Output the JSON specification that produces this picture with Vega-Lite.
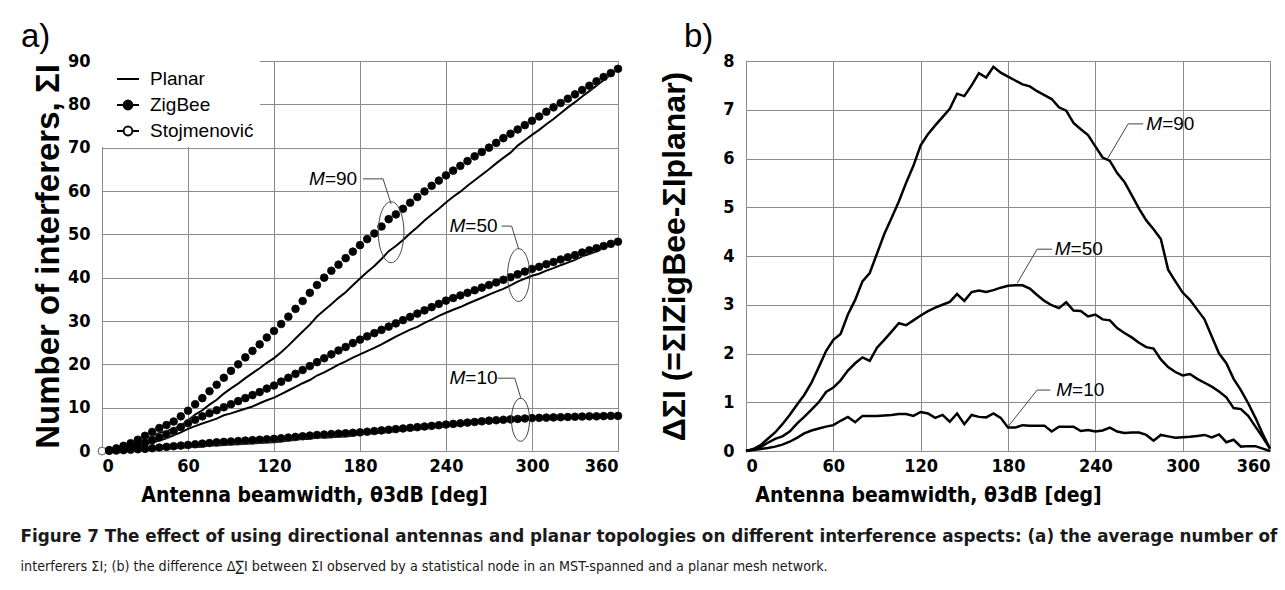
{
"$schema": "https://vega.github.io/schema/vega-lite/v6.json",
"padding": {"left": 20, "top": 20, "right": 0, "bottom": 5},
"background": "white",
"title": {"text": "Figure 7 The effect of using directional antennas and planar topologies on different interference aspects: (a) the average number of", "subtitle": "interferers ΣI; (b) the difference Δ∑I between ΣI observed by a statistical node in an MST-spanned and a planar mesh network.", "orient": "bottom", "anchor": "start", "frame": "bounds", "font": "DejaVu Sans", "fontSize": 16.8, "fontWeight": "bold", "color": "#1a1a1a", "subtitleFont": "Liberation Sans Narrow, Arial Narrow, DejaVu Sans Condensed, Roboto Condensed, Liberation Sans", "subtitleFontSize": 14.2, "subtitleColor": "#1a1a1a", "subtitlePadding": 15, "offset": 23},
"datasets": {
"curves": [
{"M":90,"x":0,"planar":0,"zigbee":0,"stojmenovic":0,"delta":0},
{"M":90,"x":5,"planar":0.16,"zigbee":0.2,"stojmenovic":0.2,"delta":0.04},
{"M":90,"x":10,"planar":0.48,"zigbee":0.6,"stojmenovic":0.6,"delta":0.12},
{"M":90,"x":15,"planar":0.95,"zigbee":1.2,"stojmenovic":1.2,"delta":0.25},
{"M":90,"x":20,"planar":1.42,"zigbee":1.8,"stojmenovic":1.8,"delta":0.38},
{"M":90,"x":25,"planar":2.05,"zigbee":2.6,"stojmenovic":2.6,"delta":0.55},
{"M":90,"x":30,"planar":2.76,"zigbee":3.5,"stojmenovic":3.5,"delta":0.74},
{"M":90,"x":35,"planar":3.45,"zigbee":4.4,"stojmenovic":4.4,"delta":0.95},
{"M":90,"x":40,"planar":4.15,"zigbee":5.3,"stojmenovic":5.3,"delta":1.15},
{"M":90,"x":45,"planar":4.6,"zigbee":6.0,"stojmenovic":6.0,"delta":1.4},
{"M":90,"x":50,"planar":5.08,"zigbee":6.8,"stojmenovic":6.8,"delta":1.72},
{"M":90,"x":55,"planar":5.95,"zigbee":8.0,"stojmenovic":8.0,"delta":2.05},
{"M":90,"x":60,"planar":7.02,"zigbee":9.3,"stojmenovic":9.3,"delta":2.28},
{"M":90,"x":65,"planar":8.4,"zigbee":10.8,"stojmenovic":10.8,"delta":2.4},
{"M":90,"x":70,"planar":9.4,"zigbee":12.2,"stojmenovic":12.2,"delta":2.8},
{"M":90,"x":75,"planar":10.7,"zigbee":13.8,"stojmenovic":13.8,"delta":3.1},
{"M":90,"x":80,"planar":11.82,"zigbee":15.3,"stojmenovic":15.3,"delta":3.48},
{"M":90,"x":85,"planar":13.25,"zigbee":16.9,"stojmenovic":16.9,"delta":3.65},
{"M":90,"x":90,"planar":14.45,"zigbee":18.5,"stojmenovic":18.5,"delta":4.05},
{"M":90,"x":95,"planar":15.55,"zigbee":20.0,"stojmenovic":20.0,"delta":4.45},
{"M":90,"x":100,"planar":16.82,"zigbee":21.6,"stojmenovic":21.6,"delta":4.78},
{"M":90,"x":105,"planar":17.98,"zigbee":23.1,"stojmenovic":23.1,"delta":5.12},
{"M":90,"x":110,"planar":19.1,"zigbee":24.6,"stojmenovic":24.6,"delta":5.5},
{"M":90,"x":115,"planar":20.35,"zigbee":26.2,"stojmenovic":26.2,"delta":5.85},
{"M":90,"x":120,"planar":21.43,"zigbee":27.7,"stojmenovic":27.7,"delta":6.27},
{"M":90,"x":125,"planar":22.8,"zigbee":29.3,"stojmenovic":29.3,"delta":6.5},
{"M":90,"x":130,"planar":24.32,"zigbee":31.0,"stojmenovic":31.0,"delta":6.68},
{"M":90,"x":135,"planar":25.95,"zigbee":32.8,"stojmenovic":32.8,"delta":6.85},
{"M":90,"x":140,"planar":27.58,"zigbee":34.6,"stojmenovic":34.6,"delta":7.02},
{"M":90,"x":145,"planar":29.17,"zigbee":36.5,"stojmenovic":36.5,"delta":7.33},
{"M":90,"x":150,"planar":31.02,"zigbee":38.3,"stojmenovic":38.3,"delta":7.28},
{"M":90,"x":155,"planar":32.5,"zigbee":40.0,"stojmenovic":40.0,"delta":7.5},
{"M":90,"x":160,"planar":33.85,"zigbee":41.6,"stojmenovic":41.6,"delta":7.75},
{"M":90,"x":165,"planar":35.34,"zigbee":43.0,"stojmenovic":43.0,"delta":7.66},
{"M":90,"x":170,"planar":36.62,"zigbee":44.5,"stojmenovic":44.5,"delta":7.88},
{"M":90,"x":175,"planar":38.24,"zigbee":46.0,"stojmenovic":46.0,"delta":7.76},
{"M":90,"x":180,"planar":39.82,"zigbee":47.5,"stojmenovic":47.5,"delta":7.68},
{"M":90,"x":185,"planar":41.3,"zigbee":48.9,"stojmenovic":48.9,"delta":7.6},
{"M":90,"x":190,"planar":42.68,"zigbee":50.2,"stojmenovic":50.2,"delta":7.52},
{"M":90,"x":195,"planar":44.32,"zigbee":51.8,"stojmenovic":51.8,"delta":7.48},
{"M":90,"x":200,"planar":46.12,"zigbee":53.5,"stojmenovic":53.5,"delta":7.38},
{"M":90,"x":205,"planar":47.3,"zigbee":54.6,"stojmenovic":54.6,"delta":7.3},
{"M":90,"x":210,"planar":48.68,"zigbee":55.9,"stojmenovic":55.9,"delta":7.22},
{"M":90,"x":215,"planar":50.25,"zigbee":57.3,"stojmenovic":57.3,"delta":7.05},
{"M":90,"x":220,"planar":51.62,"zigbee":58.6,"stojmenovic":58.6,"delta":6.98},
{"M":90,"x":225,"planar":53.17,"zigbee":59.9,"stojmenovic":59.9,"delta":6.73},
{"M":90,"x":230,"planar":54.6,"zigbee":61.2,"stojmenovic":61.2,"delta":6.6},
{"M":90,"x":235,"planar":55.92,"zigbee":62.4,"stojmenovic":62.4,"delta":6.48},
{"M":90,"x":240,"planar":57.35,"zigbee":63.6,"stojmenovic":63.6,"delta":6.25},
{"M":90,"x":245,"planar":58.68,"zigbee":64.7,"stojmenovic":64.7,"delta":6.02},
{"M":90,"x":250,"planar":59.85,"zigbee":65.8,"stojmenovic":65.8,"delta":5.95},
{"M":90,"x":255,"planar":61.2,"zigbee":66.9,"stojmenovic":66.9,"delta":5.7},
{"M":90,"x":260,"planar":62.48,"zigbee":68.0,"stojmenovic":68.0,"delta":5.52},
{"M":90,"x":265,"planar":63.75,"zigbee":69.0,"stojmenovic":69.0,"delta":5.25},
{"M":90,"x":270,"planar":65.03,"zigbee":70.0,"stojmenovic":70.0,"delta":4.97},
{"M":90,"x":275,"planar":66.37,"zigbee":71.1,"stojmenovic":71.1,"delta":4.73},
{"M":90,"x":280,"planar":67.65,"zigbee":72.2,"stojmenovic":72.2,"delta":4.55},
{"M":90,"x":285,"planar":68.85,"zigbee":73.2,"stojmenovic":73.2,"delta":4.35},
{"M":90,"x":290,"planar":70.48,"zigbee":74.2,"stojmenovic":74.2,"delta":3.72},
{"M":90,"x":295,"planar":71.72,"zigbee":75.2,"stojmenovic":75.2,"delta":3.48},
{"M":90,"x":300,"planar":72.95,"zigbee":76.2,"stojmenovic":76.2,"delta":3.25},
{"M":90,"x":305,"planar":74.1,"zigbee":77.2,"stojmenovic":77.2,"delta":3.1},
{"M":90,"x":310,"planar":75.4,"zigbee":78.3,"stojmenovic":78.3,"delta":2.9},
{"M":90,"x":315,"planar":76.6,"zigbee":79.3,"stojmenovic":79.3,"delta":2.7},
{"M":90,"x":320,"planar":77.95,"zigbee":80.3,"stojmenovic":80.3,"delta":2.35},
{"M":90,"x":325,"planar":79.3,"zigbee":81.3,"stojmenovic":81.3,"delta":2.0},
{"M":90,"x":330,"planar":80.5,"zigbee":82.3,"stojmenovic":82.3,"delta":1.8},
{"M":90,"x":335,"planar":81.82,"zigbee":83.3,"stojmenovic":83.3,"delta":1.48},
{"M":90,"x":340,"planar":83.05,"zigbee":84.3,"stojmenovic":84.3,"delta":1.25},
{"M":90,"x":345,"planar":84.32,"zigbee":85.3,"stojmenovic":85.3,"delta":0.98},
{"M":90,"x":350,"planar":85.62,"zigbee":86.3,"stojmenovic":86.3,"delta":0.68},
{"M":90,"x":355,"planar":86.85,"zigbee":87.2,"stojmenovic":87.2,"delta":0.35},
{"M":90,"x":360,"planar":88.15,"zigbee":88.2,"stojmenovic":88.2,"delta":0.05},
{"M":50,"x":0,"planar":0,"zigbee":0,"stojmenovic":0,"delta":0},
{"M":50,"x":5,"planar":0.07,"zigbee":0.1,"stojmenovic":0.1,"delta":0.03},
{"M":50,"x":10,"planar":0.22,"zigbee":0.3,"stojmenovic":0.3,"delta":0.08},
{"M":50,"x":15,"planar":0.43,"zigbee":0.6,"stojmenovic":0.6,"delta":0.17},
{"M":50,"x":20,"planar":0.75,"zigbee":1.0,"stojmenovic":1.0,"delta":0.25},
{"M":50,"x":25,"planar":1.1,"zigbee":1.4,"stojmenovic":1.4,"delta":0.3},
{"M":50,"x":30,"planar":1.5,"zigbee":1.9,"stojmenovic":1.9,"delta":0.4},
{"M":50,"x":35,"planar":1.94,"zigbee":2.5,"stojmenovic":2.5,"delta":0.56},
{"M":50,"x":40,"planar":2.4,"zigbee":3.1,"stojmenovic":3.1,"delta":0.7},
{"M":50,"x":45,"planar":2.95,"zigbee":3.8,"stojmenovic":3.8,"delta":0.85},
{"M":50,"x":50,"planar":3.6,"zigbee":4.6,"stojmenovic":4.6,"delta":1.0},
{"M":50,"x":55,"planar":4.29,"zigbee":5.5,"stojmenovic":5.5,"delta":1.21},
{"M":50,"x":60,"planar":5.1,"zigbee":6.4,"stojmenovic":6.4,"delta":1.3},
{"M":50,"x":65,"planar":5.75,"zigbee":7.2,"stojmenovic":7.2,"delta":1.45},
{"M":50,"x":70,"planar":6.35,"zigbee":8.0,"stojmenovic":8.0,"delta":1.65},
{"M":50,"x":75,"planar":6.9,"zigbee":8.7,"stojmenovic":8.7,"delta":1.8},
{"M":50,"x":80,"planar":7.48,"zigbee":9.4,"stojmenovic":9.4,"delta":1.92},
{"M":50,"x":85,"planar":8.25,"zigbee":10.1,"stojmenovic":10.1,"delta":1.85},
{"M":50,"x":90,"planar":8.68,"zigbee":10.8,"stojmenovic":10.8,"delta":2.12},
{"M":50,"x":95,"planar":9.22,"zigbee":11.5,"stojmenovic":11.5,"delta":2.28},
{"M":50,"x":100,"planar":9.75,"zigbee":12.2,"stojmenovic":12.2,"delta":2.45},
{"M":50,"x":105,"planar":10.28,"zigbee":12.9,"stojmenovic":12.9,"delta":2.62},
{"M":50,"x":110,"planar":11.02,"zigbee":13.6,"stojmenovic":13.6,"delta":2.58},
{"M":50,"x":115,"planar":11.72,"zigbee":14.4,"stojmenovic":14.4,"delta":2.68},
{"M":50,"x":120,"planar":12.32,"zigbee":15.1,"stojmenovic":15.1,"delta":2.78},
{"M":50,"x":125,"planar":13.13,"zigbee":16.0,"stojmenovic":16.0,"delta":2.87},
{"M":50,"x":130,"planar":13.96,"zigbee":16.9,"stojmenovic":16.9,"delta":2.94},
{"M":50,"x":135,"planar":14.8,"zigbee":17.8,"stojmenovic":17.8,"delta":3.0},
{"M":50,"x":140,"planar":15.64,"zigbee":18.7,"stojmenovic":18.7,"delta":3.06},
{"M":50,"x":145,"planar":16.38,"zigbee":19.6,"stojmenovic":19.6,"delta":3.22},
{"M":50,"x":150,"planar":17.42,"zigbee":20.5,"stojmenovic":20.5,"delta":3.08},
{"M":50,"x":155,"planar":18.14,"zigbee":21.4,"stojmenovic":21.4,"delta":3.26},
{"M":50,"x":160,"planar":19.01,"zigbee":22.3,"stojmenovic":22.3,"delta":3.29},
{"M":50,"x":165,"planar":19.94,"zigbee":23.2,"stojmenovic":23.2,"delta":3.26},
{"M":50,"x":170,"planar":20.7,"zigbee":24.0,"stojmenovic":24.0,"delta":3.3},
{"M":50,"x":175,"planar":21.55,"zigbee":24.9,"stojmenovic":24.9,"delta":3.35},
{"M":50,"x":180,"planar":22.31,"zigbee":25.7,"stojmenovic":25.7,"delta":3.39},
{"M":50,"x":185,"planar":23.05,"zigbee":26.45,"stojmenovic":26.45,"delta":3.4},
{"M":50,"x":190,"planar":23.8,"zigbee":27.2,"stojmenovic":27.2,"delta":3.4},
{"M":50,"x":195,"planar":24.62,"zigbee":27.95,"stojmenovic":27.95,"delta":3.33},
{"M":50,"x":200,"planar":25.5,"zigbee":28.7,"stojmenovic":28.7,"delta":3.2},
{"M":50,"x":205,"planar":26.37,"zigbee":29.45,"stojmenovic":29.45,"delta":3.08},
{"M":50,"x":210,"planar":27.21,"zigbee":30.2,"stojmenovic":30.2,"delta":2.99},
{"M":50,"x":215,"planar":28.02,"zigbee":30.95,"stojmenovic":30.95,"delta":2.93},
{"M":50,"x":220,"planar":28.65,"zigbee":31.7,"stojmenovic":31.7,"delta":3.05},
{"M":50,"x":225,"planar":29.57,"zigbee":32.45,"stojmenovic":32.45,"delta":2.88},
{"M":50,"x":230,"planar":30.33,"zigbee":33.2,"stojmenovic":33.2,"delta":2.87},
{"M":50,"x":235,"planar":31.19,"zigbee":33.95,"stojmenovic":33.95,"delta":2.76},
{"M":50,"x":240,"planar":31.9,"zigbee":34.7,"stojmenovic":34.7,"delta":2.8},
{"M":50,"x":245,"planar":32.6,"zigbee":35.3,"stojmenovic":35.3,"delta":2.7},
{"M":50,"x":250,"planar":33.22,"zigbee":35.9,"stojmenovic":35.9,"delta":2.68},
{"M":50,"x":255,"planar":33.98,"zigbee":36.5,"stojmenovic":36.5,"delta":2.52},
{"M":50,"x":260,"planar":34.68,"zigbee":37.1,"stojmenovic":37.1,"delta":2.42},
{"M":50,"x":265,"planar":35.37,"zigbee":37.7,"stojmenovic":37.7,"delta":2.33},
{"M":50,"x":270,"planar":36.08,"zigbee":38.3,"stojmenovic":38.3,"delta":2.22},
{"M":50,"x":275,"planar":36.77,"zigbee":38.9,"stojmenovic":38.9,"delta":2.13},
{"M":50,"x":280,"planar":37.4,"zigbee":39.5,"stojmenovic":39.5,"delta":2.1},
{"M":50,"x":285,"planar":38.22,"zigbee":40.1,"stojmenovic":40.1,"delta":1.88},
{"M":50,"x":290,"planar":39.08,"zigbee":40.8,"stojmenovic":40.8,"delta":1.72},
{"M":50,"x":295,"planar":39.78,"zigbee":41.4,"stojmenovic":41.4,"delta":1.62},
{"M":50,"x":300,"planar":40.45,"zigbee":42.0,"stojmenovic":42.0,"delta":1.55},
{"M":50,"x":305,"planar":40.92,"zigbee":42.5,"stojmenovic":42.5,"delta":1.58},
{"M":50,"x":310,"planar":41.62,"zigbee":43.1,"stojmenovic":43.1,"delta":1.48},
{"M":50,"x":315,"planar":42.2,"zigbee":43.6,"stojmenovic":43.6,"delta":1.4},
{"M":50,"x":320,"planar":42.88,"zigbee":44.2,"stojmenovic":44.2,"delta":1.32},
{"M":50,"x":325,"planar":43.48,"zigbee":44.7,"stojmenovic":44.7,"delta":1.22},
{"M":50,"x":330,"planar":44.1,"zigbee":45.2,"stojmenovic":45.2,"delta":1.1},
{"M":50,"x":335,"planar":44.92,"zigbee":45.8,"stojmenovic":45.8,"delta":0.88},
{"M":50,"x":340,"planar":45.44,"zigbee":46.3,"stojmenovic":46.3,"delta":0.86},
{"M":50,"x":345,"planar":46.08,"zigbee":46.8,"stojmenovic":46.8,"delta":0.72},
{"M":50,"x":350,"planar":46.8,"zigbee":47.3,"stojmenovic":47.3,"delta":0.5},
{"M":50,"x":355,"planar":47.52,"zigbee":47.8,"stojmenovic":47.8,"delta":0.28},
{"M":50,"x":360,"planar":48.25,"zigbee":48.3,"stojmenovic":48.3,"delta":0.05},
{"M":10,"x":0,"planar":0,"zigbee":0,"stojmenovic":0,"delta":0},
{"M":10,"x":5,"planar":0.03,"zigbee":0.05,"stojmenovic":0.05,"delta":0.02},
{"M":10,"x":10,"planar":0.06,"zigbee":0.1,"stojmenovic":0.1,"delta":0.04},
{"M":10,"x":15,"planar":0.14,"zigbee":0.2,"stojmenovic":0.2,"delta":0.06},
{"M":10,"x":20,"planar":0.21,"zigbee":0.3,"stojmenovic":0.3,"delta":0.09},
{"M":10,"x":25,"planar":0.27,"zigbee":0.4,"stojmenovic":0.4,"delta":0.13},
{"M":10,"x":30,"planar":0.31,"zigbee":0.5,"stojmenovic":0.5,"delta":0.19},
{"M":10,"x":35,"planar":0.38,"zigbee":0.65,"stojmenovic":0.65,"delta":0.27},
{"M":10,"x":40,"planar":0.44,"zigbee":0.8,"stojmenovic":0.8,"delta":0.36},
{"M":10,"x":45,"planar":0.53,"zigbee":0.95,"stojmenovic":0.95,"delta":0.42},
{"M":10,"x":50,"planar":0.64,"zigbee":1.1,"stojmenovic":1.1,"delta":0.46},
{"M":10,"x":55,"planar":0.75,"zigbee":1.25,"stojmenovic":1.25,"delta":0.5},
{"M":10,"x":60,"planar":0.87,"zigbee":1.4,"stojmenovic":1.4,"delta":0.53},
{"M":10,"x":65,"planar":0.93,"zigbee":1.55,"stojmenovic":1.55,"delta":0.62},
{"M":10,"x":70,"planar":1.0,"zigbee":1.7,"stojmenovic":1.7,"delta":0.7},
{"M":10,"x":75,"planar":1.26,"zigbee":1.85,"stojmenovic":1.85,"delta":0.59},
{"M":10,"x":80,"planar":1.28,"zigbee":2.0,"stojmenovic":2.0,"delta":0.72},
{"M":10,"x":85,"planar":1.38,"zigbee":2.1,"stojmenovic":2.1,"delta":0.72},
{"M":10,"x":90,"planar":1.48,"zigbee":2.2,"stojmenovic":2.2,"delta":0.72},
{"M":10,"x":95,"planar":1.57,"zigbee":2.3,"stojmenovic":2.3,"delta":0.73},
{"M":10,"x":100,"planar":1.66,"zigbee":2.4,"stojmenovic":2.4,"delta":0.74},
{"M":10,"x":105,"planar":1.74,"zigbee":2.5,"stojmenovic":2.5,"delta":0.76},
{"M":10,"x":110,"planar":1.84,"zigbee":2.6,"stojmenovic":2.6,"delta":0.76},
{"M":10,"x":115,"planar":1.98,"zigbee":2.7,"stojmenovic":2.7,"delta":0.72},
{"M":10,"x":120,"planar":2.0,"zigbee":2.8,"stojmenovic":2.8,"delta":0.8},
{"M":10,"x":125,"planar":2.18,"zigbee":2.95,"stojmenovic":2.95,"delta":0.77},
{"M":10,"x":130,"planar":2.42,"zigbee":3.1,"stojmenovic":3.1,"delta":0.68},
{"M":10,"x":135,"planar":2.51,"zigbee":3.25,"stojmenovic":3.25,"delta":0.74},
{"M":10,"x":140,"planar":2.8,"zigbee":3.4,"stojmenovic":3.4,"delta":0.6},
{"M":10,"x":145,"planar":2.78,"zigbee":3.55,"stojmenovic":3.55,"delta":0.77},
{"M":10,"x":150,"planar":3.15,"zigbee":3.7,"stojmenovic":3.7,"delta":0.55},
{"M":10,"x":155,"planar":3.06,"zigbee":3.8,"stojmenovic":3.8,"delta":0.74},
{"M":10,"x":160,"planar":3.2,"zigbee":3.9,"stojmenovic":3.9,"delta":0.7},
{"M":10,"x":165,"planar":3.31,"zigbee":4.0,"stojmenovic":4.0,"delta":0.69},
{"M":10,"x":170,"planar":3.33,"zigbee":4.1,"stojmenovic":4.1,"delta":0.77},
{"M":10,"x":175,"planar":3.52,"zigbee":4.2,"stojmenovic":4.2,"delta":0.68},
{"M":10,"x":180,"planar":3.82,"zigbee":4.3,"stojmenovic":4.3,"delta":0.48},
{"M":10,"x":185,"planar":3.97,"zigbee":4.45,"stojmenovic":4.45,"delta":0.48},
{"M":10,"x":190,"planar":4.07,"zigbee":4.6,"stojmenovic":4.6,"delta":0.53},
{"M":10,"x":195,"planar":4.23,"zigbee":4.75,"stojmenovic":4.75,"delta":0.52},
{"M":10,"x":200,"planar":4.38,"zigbee":4.9,"stojmenovic":4.9,"delta":0.52},
{"M":10,"x":205,"planar":4.53,"zigbee":5.05,"stojmenovic":5.05,"delta":0.52},
{"M":10,"x":210,"planar":4.8,"zigbee":5.2,"stojmenovic":5.2,"delta":0.4},
{"M":10,"x":215,"planar":4.85,"zigbee":5.35,"stojmenovic":5.35,"delta":0.5},
{"M":10,"x":220,"planar":5.0,"zigbee":5.5,"stojmenovic":5.5,"delta":0.5},
{"M":10,"x":225,"planar":5.15,"zigbee":5.65,"stojmenovic":5.65,"delta":0.5},
{"M":10,"x":230,"planar":5.39,"zigbee":5.8,"stojmenovic":5.8,"delta":0.41},
{"M":10,"x":235,"planar":5.52,"zigbee":5.95,"stojmenovic":5.95,"delta":0.43},
{"M":10,"x":240,"planar":5.7,"zigbee":6.1,"stojmenovic":6.1,"delta":0.4},
{"M":10,"x":245,"planar":5.83,"zigbee":6.25,"stojmenovic":6.25,"delta":0.42},
{"M":10,"x":250,"planar":5.92,"zigbee":6.4,"stojmenovic":6.4,"delta":0.48},
{"M":10,"x":255,"planar":6.15,"zigbee":6.55,"stojmenovic":6.55,"delta":0.4},
{"M":10,"x":260,"planar":6.33,"zigbee":6.7,"stojmenovic":6.7,"delta":0.37},
{"M":10,"x":265,"planar":6.47,"zigbee":6.85,"stojmenovic":6.85,"delta":0.38},
{"M":10,"x":270,"planar":6.62,"zigbee":7.0,"stojmenovic":7.0,"delta":0.38},
{"M":10,"x":275,"planar":6.77,"zigbee":7.1,"stojmenovic":7.1,"delta":0.33},
{"M":10,"x":280,"planar":6.99,"zigbee":7.2,"stojmenovic":7.2,"delta":0.21},
{"M":10,"x":285,"planar":6.97,"zigbee":7.3,"stojmenovic":7.3,"delta":0.33},
{"M":10,"x":290,"planar":7.1,"zigbee":7.4,"stojmenovic":7.4,"delta":0.3},
{"M":10,"x":295,"planar":7.23,"zigbee":7.5,"stojmenovic":7.5,"delta":0.27},
{"M":10,"x":300,"planar":7.32,"zigbee":7.6,"stojmenovic":7.6,"delta":0.28},
{"M":10,"x":305,"planar":7.36,"zigbee":7.65,"stojmenovic":7.65,"delta":0.29},
{"M":10,"x":310,"planar":7.39,"zigbee":7.7,"stojmenovic":7.7,"delta":0.31},
{"M":10,"x":315,"planar":7.42,"zigbee":7.75,"stojmenovic":7.75,"delta":0.33},
{"M":10,"x":320,"planar":7.52,"zigbee":7.8,"stojmenovic":7.8,"delta":0.28},
{"M":10,"x":325,"planar":7.51,"zigbee":7.85,"stojmenovic":7.85,"delta":0.34},
{"M":10,"x":330,"planar":7.72,"zigbee":7.9,"stojmenovic":7.9,"delta":0.18},
{"M":10,"x":335,"planar":7.72,"zigbee":7.95,"stojmenovic":7.95,"delta":0.23},
{"M":10,"x":340,"planar":7.91,"zigbee":8.0,"stojmenovic":8.0,"delta":0.09},
{"M":10,"x":345,"planar":7.9,"zigbee":8.0,"stojmenovic":8.0,"delta":0.1},
{"M":10,"x":350,"planar":7.95,"zigbee":8.05,"stojmenovic":8.05,"delta":0.1},
{"M":10,"x":355,"planar":8.05,"zigbee":8.1,"stojmenovic":8.1,"delta":0.05},
{"M":10,"x":360,"planar":8.1,"zigbee":8.1,"stojmenovic":8.1,"delta":0}
],
"leadersA": [
{"M":90,"o":1,"x":182.1,"y":62.8},{"M":90,"o":2,"x":196.1,"y":62.8},{"M":90,"o":3,"x":201.7,"y":57.0},
{"M":50,"o":1,"x":278.8,"y":51.9},{"M":50,"o":2,"x":285.8,"y":51.9},{"M":50,"o":3,"x":290.7,"y":46.6},
{"M":10,"o":1,"x":276,"y":16.8},{"M":10,"o":2,"x":288,"y":16.8},{"M":10,"o":3,"x":292.4,"y":12.0}
],
"ellipsesA": [
{"M":90,"x":201.7,"y":50.5},{"M":50,"x":290.7,"y":40.6},{"M":10,"x":292,"y":7.2}
],
"labelsA": [
{"M":90,"x":155.5,"y":62.8,"sym":"M","rest":"=90"},
{"M":50,"x":253.5,"y":51.9,"sym":"M","rest":"=50"},
{"M":10,"x":253.5,"y":16.8,"sym":"M","rest":"=10"}
],
"leadersB": [
{"M":90,"o":1,"x":248.3,"y":5.99},{"M":90,"o":2,"x":262.5,"y":6.71},{"M":90,"o":3,"x":272.9,"y":6.71},
{"M":50,"o":1,"x":186.3,"y":3.44},{"M":50,"o":2,"x":200,"y":4.14},{"M":50,"o":3,"x":210.3,"y":4.14},
{"M":10,"o":1,"x":180,"y":0.5},{"M":10,"o":2,"x":200,"y":1.25},{"M":10,"o":3,"x":209.1,"y":1.25}
],
"labelsB": [
{"M":90,"x":285.9,"y":6.71,"sym":"M","rest":"=90"},
{"M":50,"x":223,"y":4.14,"sym":"M","rest":"=50"},
{"M":10,"x":224,"y":1.25,"sym":"M","rest":"=10"}
]
},
"spacing": 33,
"hconcat": [
{
"width": 516, "height": 390,
"title": {"text": "a)", "anchor": "start", "frame": "group", "dx": -81, "fontSize": 33, "fontWeight": "normal", "font": "Liberation Sans", "color": "black", "offset": -2},
"encoding": {
 "x": {"field": "x", "type": "quantitative", "scale": {"domain": [0, 360], "nice": false, "zero": false}, "axis": {"values": [0,60,120,180,240,300,360], "title": "Antenna beamwidth, θ3dB [deg]", "titleX": 212}}
},
"layer": [
{"data": {"name": "curves"},
 "mark": {"type": "line", "color": "black", "strokeWidth": 2},
 "encoding": {
  "y": {"field": "planar", "type": "quantitative", "scale": {"domain": [0, 90], "nice": false}, "axis": {"values": [0,10,20,30,40,50,60,70,80,90], "title": "Number of interferers, ΣI", "titleFontSize": 33, "titlePadding": 2}},
  "detail": {"field": "M", "type": "nominal"}
 }},
{"data": {"name": "curves"},
 "mark": {"type": "point", "filled": true, "fill": "white", "stroke": "#777", "strokeWidth": 1, "size": 58, "opacity": 1},
 "encoding": {
  "y": {"field": "stojmenovic", "type": "quantitative", "scale": {"domain": [0, 90], "nice": false}}
 }},
{"data": {"name": "curves"},
 "transform": [{"filter": "datum.x > 0"}],
 "mark": {"type": "point", "filled": true, "fill": "black", "stroke": "black", "strokeWidth": 0.5, "size": 58, "opacity": 1},
 "encoding": {
  "y": {"field": "zigbee", "type": "quantitative", "scale": {"domain": [0, 90], "nice": false}}
 }},
{"data": {"name": "curves"},
 "transform": [{"filter": "false"}],
 "mark": {"type": "point", "filled": true, "strokeWidth": 2, "opacity": 1},
 "encoding": {
  "y": {"field": "zigbee", "type": "quantitative", "scale": {"domain": [0, 90], "nice": false}},
  "shape": {"datum": "ZigBee", "type": "nominal",
   "scale": {"domain": ["Planar", "ZigBee", "Stojmenović"], "range": ["M-1,0H1", "M-1,0H-0.4M0.4,0H1M0.4,0A0.4,0.4 0 1 1 -0.4,0A0.4,0.4 0 1 1 0.4,0Z", "M-1,0H-0.4M0.4,0H1M0.4,0A0.4,0.4 0 1 1 -0.4,0A0.4,0.4 0 1 1 0.4,0Z"]},
   "legend": {"title": null, "orient": "top-left", "offset": 0, "padding": 6, "fillColor": "white", "labelFont": "Liberation Sans", "labelFontSize": 19, "labelColor": "black", "symbolSize": 484, "symbolOffset": 8, "labelOffset": 10, "rowPadding": 4, "symbolStrokeColor": "black", "symbolStrokeWidth": 2, "symbolOpacity": 1}},
  "fill": {"datum": "ZigBee", "type": "nominal",
   "scale": {"domain": ["Planar", "ZigBee", "Stojmenović"], "range": ["black", "black", "white"]},
   "legend": {"title": null, "orient": "top-left", "offset": 0, "padding": 6, "fillColor": "white", "labelFont": "Liberation Sans", "labelFontSize": 19, "labelColor": "black", "symbolSize": 484, "symbolOffset": 8, "labelOffset": 10, "rowPadding": 4, "symbolStrokeColor": "black", "symbolStrokeWidth": 2, "symbolOpacity": 1}},
  "stroke": {"datum": "ZigBee", "type": "nominal",
   "scale": {"domain": ["Planar", "ZigBee", "Stojmenović"], "range": ["black", "black", "black"]},
   "legend": {"title": null, "orient": "top-left", "offset": 0, "padding": 6, "fillColor": "white", "labelFont": "Liberation Sans", "labelFontSize": 19, "labelColor": "black", "symbolSize": 484, "symbolOffset": 8, "labelOffset": 10, "rowPadding": 4, "symbolStrokeColor": "black", "symbolStrokeWidth": 2, "symbolOpacity": 1}}
 }},
{"data": {"name": "leadersA"},
 "mark": {"type": "line", "color": "#444", "strokeWidth": 1},
 "encoding": {
  "y": {"field": "y", "type": "quantitative", "scale": {"domain": [0, 90], "nice": false}},
  "detail": {"field": "M", "type": "nominal"},
  "order": {"field": "o", "type": "quantitative"}
 }},
{"data": {"name": "ellipsesA"},
 "mark": {"type": "point", "filled": false, "shape": "M0,-1A0.42,1 0 1 1 0,1A0.42,1 0 1 1 0,-1Z", "stroke": "#444", "strokeWidth": 1, "opacity": 1},
 "encoding": {
  "y": {"field": "y", "type": "quantitative", "scale": {"domain": [0, 90], "nice": false}},
  "size": {"field": "M", "type": "quantitative", "scale": {"domain": [10, 90], "range": [1849, 3721]}, "legend": null}
 }},
{"data": {"name": "labelsA"},
 "mark": {"type": "text", "align": "right", "baseline": "middle", "font": "Liberation Sans", "fontSize": 19, "fontStyle": "italic", "color": "black"},
 "encoding": {
  "y": {"field": "y", "type": "quantitative", "scale": {"domain": [0, 90], "nice": false}},
  "text": {"field": "sym"}
 }},
{"data": {"name": "labelsA"},
 "mark": {"type": "text", "align": "left", "baseline": "middle", "font": "Liberation Sans", "fontSize": 19, "color": "black"},
 "encoding": {
  "y": {"field": "y", "type": "quantitative", "scale": {"domain": [0, 90], "nice": false}},
  "text": {"field": "rest"}
 }}
]
},
{
"width": 524, "height": 390,
"title": {"text": "b)", "anchor": "start", "frame": "group", "dx": -62, "fontSize": 33, "fontWeight": "normal", "font": "Liberation Sans", "color": "black", "offset": -2},
"encoding": {
 "x": {"field": "x", "type": "quantitative", "scale": {"domain": [0, 360], "nice": false, "zero": false}, "axis": {"values": [0,60,120,180,240,300,360], "title": "Antenna beamwidth, θ3dB [deg]", "titleX": 182}}
},
"layer": [
{"data": {"name": "curves"},
 "mark": {"type": "line", "color": "black", "strokeWidth": 2.5},
 "encoding": {
  "y": {"field": "delta", "type": "quantitative", "scale": {"domain": [0, 8], "nice": false}, "axis": {"values": [0,1,2,3,4,5,6,7,8], "title": "ΔΣI (=ΣIZigBee-ΣIplanar)", "titleFontSize": 32, "titlePadding": 31}},
  "detail": {"field": "M", "type": "nominal"}
 }},
{"data": {"name": "leadersB"},
 "mark": {"type": "line", "color": "#444", "strokeWidth": 1},
 "encoding": {
  "y": {"field": "y", "type": "quantitative", "scale": {"domain": [0, 8], "nice": false}},
  "detail": {"field": "M", "type": "nominal"},
  "order": {"field": "o", "type": "quantitative"}
 }},
{"data": {"name": "labelsB"},
 "mark": {"type": "text", "align": "right", "baseline": "middle", "font": "Liberation Sans", "fontSize": 19, "fontStyle": "italic", "color": "black"},
 "encoding": {
  "y": {"field": "y", "type": "quantitative", "scale": {"domain": [0, 8], "nice": false}},
  "text": {"field": "sym"}
 }},
{"data": {"name": "labelsB"},
 "mark": {"type": "text", "align": "left", "baseline": "middle", "font": "Liberation Sans", "fontSize": 19, "color": "black"},
 "encoding": {
  "y": {"field": "y", "type": "quantitative", "scale": {"domain": [0, 8], "nice": false}},
  "text": {"field": "rest"}
 }}
]
}
],
"config": {
 "font": "Liberation Sans",
 "view": {"stroke": "#8c8c8c"},
 "axis": {"grid": true, "gridColor": "#8c8c8c", "gridWidth": 1, "domainColor": "#8c8c8c", "ticks": false, "labelFont": "Liberation Sans Narrow, Arial Narrow, DejaVu Sans Condensed, Roboto Condensed, Liberation Sans", "labelFontWeight": "bold", "labelFontSize": 18, "labelColor": "black", "titleColor": "black", "titleFontWeight": "bold"},
 "axisX": {"labelPadding": 6, "titleFont": "Liberation Sans Narrow, Arial Narrow, DejaVu Sans Condensed, Roboto Condensed, Liberation Sans", "titleFontSize": 21, "titlePadding": 9},
 "axisY": {"labelPadding": 12, "titleFont": "Liberation Sans", "titleFontSize": 32, "titlePadding": 8}
}
}
